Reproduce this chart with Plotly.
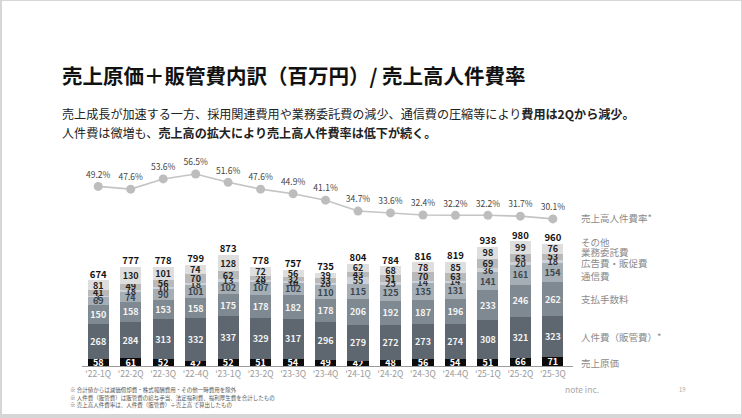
import plotly.graph_objects as go

quarters = ["'22-1Q", "'22-2Q", "'22-3Q", "'22-4Q", "'23-1Q", "'23-2Q", "'23-3Q", "'23-4Q",
            "'24-1Q", "'24-2Q", "'24-3Q", "'24-4Q", "'25-1Q", "'25-2Q", "'25-3Q"]

cogs       = [58, 61, 52, 42, 52, 51, 54, 49, 42, 48, 56, 54, 51, 66, 71]      # 売上原価
personnel  = [268, 284, 313, 332, 337, 329, 317, 296, 279, 272, 273, 274, 308, 321, 323]  # 人件費（販管費）
fees       = [150, 158, 153, 158, 175, 178, 182, 178, 206, 192, 187, 196, 233, 246, 262]  # 支払手数料
telecom    = [69, 74, 90, 101, 102, 107, 102, 110, 115, 125, 135, 131, 141, 161, 154]    # 通信費
ads        = [7, 18, 10, 18, 13, 10, 10, 20, 55, 25, 14, 14, 36, 20, 18]                 # 広告費・販促費
outsourcing = [41, 49, 56, 70, 62, 28, 32, 33, 43, 51, 70, 63, 69, 63, 53]               # 業務委託費
other      = [81, 130, 101, 74, 128, 72, 56, 39, 62, 68, 78, 85, 98, 99, 76]             # その他
totals     = [674, 777, 778, 799, 873, 778, 757, 735, 804, 784, 816, 819, 938, 980, 960]
ratio      = [49.2, 47.6, 53.6, 56.5, 51.6, 47.6, 44.9, 41.1, 34.7, 33.6, 32.4, 32.2, 32.2, 31.7, 30.1]

FONT = "Noto Sans CJK JP"

# plot area in pixels
L, R, T, B = 82, 573, 150, 366
W, H = 742, 418

def px(x):
    return (x - L) / (R - L)

def py(y):
    return (B - y) / (B - T)

series = [
    ("売上原価", cogs, "#0b0b0b", "#ffffff"),
    ("人件費（販管費）", personnel, "#5e676f", "#f4f4f4"),
    ("支払手数料", fees, "#7f8991", "#f4f4f4"),
    ("通信費", telecom, "#a5aeb5", "#3b4650"),
    ("広告費・販促費", ads, "#ccd2d7", "#333333"),
    ("業務委託費", outsourcing, "#b9b9b9", "#1e1e1e"),
    ("その他", other, "#dedede", "#1e1e1e"),
]

fig = go.Figure()
for name, vals, col, tcol in series:
    fig.add_trace(go.Bar(
        x=quarters, y=vals, name=name,
        marker=dict(color=col, line=dict(width=0)),
        text=[str(v) for v in vals],
        textposition="inside", insidetextanchor="middle",
        constraintext="none", textangle=0,
        textfont=dict(family=FONT, size=9, color=tcol, weight="bold"),
        hoverinfo="skip", showlegend=False,
    ))

fig.add_trace(go.Scatter(
    x=quarters, y=totals, mode="text",
    text=[str(v) for v in totals], textposition="top center",
    textfont=dict(family=FONT, size=9.5, color="#111111", weight="bold"),
    cliponaxis=False, showlegend=False, hoverinfo="skip",
))

fig.add_trace(go.Scatter(
    x=quarters, y=ratio, mode="lines+markers+text", yaxis="y2",
    line=dict(color="#c4c4c4", width=1.6),
    marker=dict(color="#bdbdbd", size=9),
    text=[f"{v:.1f}%" for v in ratio], textposition="top center",
    textfont=dict(family=FONT, size=8.5, color="#444444"),
    cliponaxis=False, showlegend=False, hoverinfo="skip",
))

bar_range = (B - T) / 0.1276
pct_per_px = 1 / 1.7
y2_lo = 56.5 - (B - 174) * pct_per_px
y2_hi = 56.5 + (174 - T) * pct_per_px

ann = []

def add(text, x, y, size, color="#222222", xanchor="left", yanchor="middle"):
    ann.append(dict(text=text, x=px(x), y=py(y), xref="paper", yref="paper",
                    showarrow=False, xanchor=xanchor, yanchor=yanchor,
                    font=dict(family=FONT, size=size, color=color)))

add("<b>売上原価＋販管費内訳（百万円）/ 売上高人件費率</b>", 60, 75, 20.5, "#111111")
add("売上成長が加速する一方、採用関連費用や業務委託費の減少、通信費の圧縮等により<b>費用は2Qから減少。</b>",
    60, 114, 12.1, "#222222")
add("人件費は微増も、<b>売上高の拡大により売上高人件費率は低下が続く。</b>", 60, 132, 12.1, "#222222")

legend_labels = [
    ("売上高人件費率*", 218),
    ("その他", 242),
    ("業務委託費", 252),
    ("広告費・販促費", 263),
    ("通信費", 276),
    ("支払手数料", 299),
    ("人件費（販管費）*", 337),
    ("売上原価", 363),
]
for txt, yy in legend_labels:
    add(txt, 579, yy, 9.5, "#8a8a8a")

foot = [
    "※ 合計値からは減価償却費・株式報酬費用・その他一時費用を除外",
    "※ 人件費（販管費）は販管費の給与手当、法定福利費、福利厚生費を合計したもの",
    "※ 売上高人件費率は、人件費（販管費）÷売上高 で算出したもの",
]
for i, t in enumerate(foot):
    add(t, 68, 390 + i * 7.5, 5.5, "#555555")

add("note inc.", 563, 389, 8.5, "#aaaaaa")
add("19", 677, 389, 6, "#aaaaaa")

fig.update_layout(
    width=W, height=H,
    margin=dict(l=L, r=W - R, t=T, b=H - B, pad=0),
    barmode="stack", bargap=0.35,
    paper_bgcolor="#d6d6d6", plot_bgcolor="rgba(0,0,0,0)",
    font=dict(family=FONT),
    xaxis=dict(type="category", range=[-0.5, 14.62], showgrid=False, zeroline=False,
               showline=True, linecolor="#9a9a9a", linewidth=1, ticks="",
               tickfont=dict(family=FONT, size=8.5, color="#9a9a9a"), fixedrange=True),
    yaxis=dict(range=[0, bar_range], visible=False, showgrid=False, fixedrange=True),
    yaxis2=dict(range=[y2_lo, y2_hi], overlaying="y", visible=False, showgrid=False, fixedrange=True),
    annotations=ann,
    shapes=[dict(type="rect", xref="paper", yref="paper",
                 x0=px(2), x1=px(741), y0=py(414), y1=py(1),
                 fillcolor="#ffffff", line=dict(width=0), layer="below")],
    showlegend=False,
)

fig.write_html("out.html", config={"displayModeBar": False},
               post_script="document.body.style.margin='0';document.body.style.overflow='hidden';")
